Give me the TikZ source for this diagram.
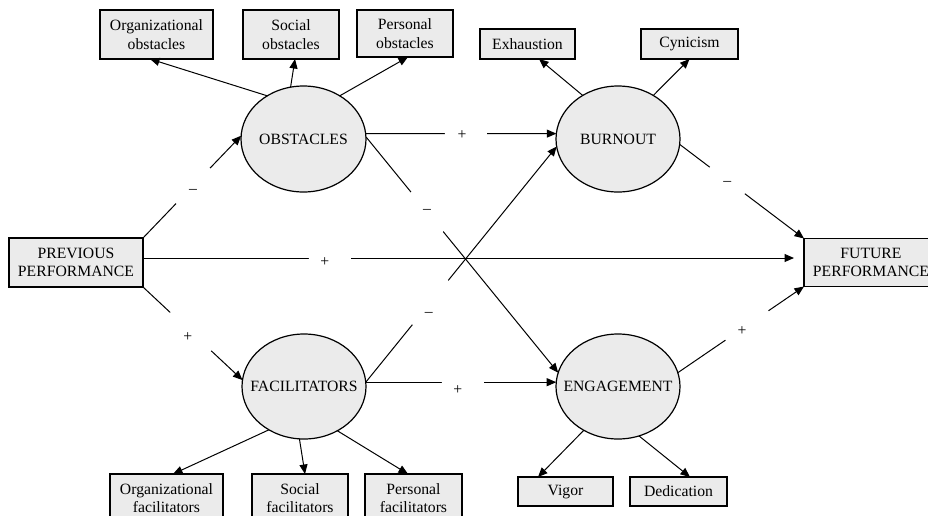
\documentclass[tikz,border=0pt]{standalone}
\usepackage{fontspec}
\setmainfont{Liberation Serif}
\usetikzlibrary{shapes.geometric,arrows.meta}
\definecolor{boxgray}{RGB}{235,235,235}
\tikzset{
  box/.style={draw, line width=1.2pt, fill=boxgray, align=center, inner sep=0pt, outer sep=0pt},
  oval/.style={ellipse, draw, line width=1.2pt, fill=boxgray, inner sep=0pt, outer sep=0pt},
  conn/.style={line width=1pt, -{Triangle[length=9.5pt,width=8pt]}},
  gapc/.style={circle, fill=white, inner sep=0pt, minimum size=#1},
  signlbl/.style={inner sep=0pt},
}
\begin{document}
\begin{tikzpicture}[x=1pt, y=-1pt, font=\fontsize{15.7}{18.3}\selectfont]
\useasboundingbox (0,0) rectangle (928,515);
\clip (0,0) rectangle (928,515);
% boxes
\node[box, minimum width=113pt, minimum height=49pt] (orgobs) at (156.5,34.5) {Organizational\\obstacles};
\node[box, minimum width=96pt, minimum height=49pt] (socobs) at (291,34.5) {Social\\obstacles};
\node[box, minimum width=96pt, minimum height=47pt] (perobs) at (405,33.5) {Personal\\obstacles};
\node[box, minimum width=95pt, minimum height=30pt] (exh) at (527.5,44) {Exhaustion};
\node[box, minimum width=97pt, minimum height=30pt] (cyn) at (689.5,44) {Cynicism};
\node[box, minimum width=134pt, minimum height=49pt] (prev) at (76,262.5) {PREVIOUS\\PERFORMANCE};
\node[box, minimum width=134pt, minimum height=48pt] (fut) at (871,262.5) {FUTURE\\PERFORMANCE};
\node[box, minimum width=113pt, minimum height=48pt] (orgfac) at (166.5,498) {Organizational\\facilitators};
\node[box, minimum width=96pt, minimum height=48pt] (socfac) at (300,498) {Social\\facilitators};
\node[box, minimum width=97pt, minimum height=48pt] (perfac) at (413.5,498) {Personal\\facilitators};
\node[box, minimum width=95pt, minimum height=29pt] (vigor) at (565.5,491.5) {Vigor};
\node[box, minimum width=97pt, minimum height=29pt] (ded) at (678.5,491.5) {Dedication};
% latent variables
\node[oval, minimum width=125pt, minimum height=106pt] (obst) at (303.5,139) {\makebox[0pt]{OBSTACLES}};
\node[oval, minimum width=124pt, minimum height=106pt] (burn) at (618,139) {\makebox[0pt]{BURNOUT}};
\node[oval, minimum width=124pt, minimum height=105pt] (facil) at (304,386.5) {\makebox[0pt]{FACILITATORS}};
\node[oval, minimum width=124pt, minimum height=105pt] (eng) at (618,386.5) {\makebox[0pt]{ENGAGEMENT}};
% indicators
\draw[conn] (obst.130) -- ([xshift=-6.5pt]orgobs.south);
\draw[conn] (obst.104) -- ([xshift=4pt]socobs.south);
\draw[conn] (obst.50.5) -- ([xshift=3pt]perobs.south);
\draw[conn] (burn.129) -- ([xshift=11.5pt]exh.south);
\draw[conn] (burn.51) -- (cyn.south);
\draw[conn] (facil.231) -- ([xshift=6.5pt]orgfac.north);
\draw[conn] (facil.265.5) -- ([xshift=5pt]socfac.north);
\draw[conn] (facil.307) -- ([xshift=-5.5pt]perfac.north);
\draw[conn] (eng.232) -- ([xshift=-27.5pt]vigor.north);
\draw[conn] (eng.293.5) -- ([xshift=11.5pt]ded.north);
% structural paths
\draw[conn] (prev.north east) -- node[gapc=49pt, pos=.51] {} node[signlbl, pos=.51, yshift=-5.5pt] {–} (obst.177);
\draw[conn] (prev.south east) -- node[gapc=56pt, pos=.48] {} node[signlbl, pos=.48, xshift=-3pt, yshift=-5pt] {+} (facil.174);
\draw[conn] ([yshift=4.5pt]prev.east) -- node[gapc=42pt, pos=.287] {} node[signlbl, pos=.287, xshift=-5pt, yshift=-4pt] {+} ([yshift=4.5pt, xshift=-10pt]fut.west);
\draw[conn] (obst.5) -- node[gapc=42pt, pos=.526] {} node[signlbl, pos=.526, xshift=-4pt, yshift=-1pt] {+} (burn.175);
\draw[conn] (obst.2) -- node[gapc=51pt, pos=.318] {} node[signlbl, pos=.318] {–} (eng.167);
\draw[conn] (facil.4) -- node[gapc=57pt, pos=.338] {} node[signlbl, pos=.338, xshift=-1.5pt, yshift=-11.5pt] {–} (burn.187.5);
\draw[conn] (facil.4) -- node[gapc=42pt, pos=.51] {} node[signlbl, pos=.51, xshift=-5pt, yshift=-8pt] {+} (eng.176);
\draw[conn] (burn.355) -- node[gapc=44pt, pos=.383] {} node[signlbl, pos=.383, yshift=-3pt] {–} (fut.north west);
\draw[conn] (eng.13) -- node[gapc=52pt, pos=.548] {} node[signlbl, pos=.548, xshift=-5pt, yshift=-6pt] {+} (fut.south west);
\end{tikzpicture}
\end{document}
